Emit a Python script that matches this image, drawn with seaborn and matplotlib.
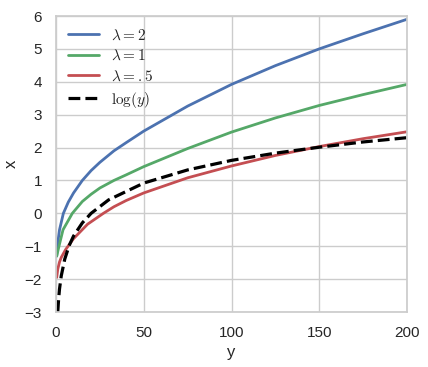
import matplotlib
matplotlib.use("Agg")
import matplotlib.pyplot as plt
import seaborn as sns
import pandas as pd

# horizontal axis values ("y") and read-off curve values ("x")
y_blue = [0.4, 1, 2, 4.2, 7, 10, 15, 20, 25, 33, 40, 50, 75, 100, 125, 150, 175, 200]
x_blue = [-1.3, -0.9, -0.5, 0.0, 0.34, 0.62, 1.0, 1.3, 1.55, 1.9, 2.15, 2.5, 3.26, 3.92, 4.49, 5.0, 5.46, 5.9]

y_green = [0.4, 1.7, 4, 9.3, 15, 20, 25, 33, 40, 50, 75, 100, 125, 150, 175, 200]
x_green = [-1.3, -1.0, -0.5, 0.0, 0.36, 0.58, 0.77, 1.0, 1.17, 1.42, 1.97, 2.47, 2.9, 3.28, 3.61, 3.92]

y_red = [0.4, 1, 2, 3, 5.5, 10, 18, 27, 33, 40, 50, 75, 100, 125, 150, 175, 200]
x_red = [-1.95, -1.7, -1.48, -1.34, -1.1, -0.77, -0.33, 0.0, 0.2, 0.39, 0.62, 1.08, 1.44, 1.76, 2.03, 2.27, 2.48]

y_log = [1, 1.5, 2, 3, 5, 7.5, 10, 15, 20, 30, 50, 75, 100, 125, 150, 175, 200]
x_log = [-3.0, -2.6, -2.3, -1.9, -1.39, -0.98, -0.69, -0.29, 0.0, 0.41, 0.92, 1.32, 1.61, 1.83, 2.01, 2.17, 2.30]

labels = [r"$\lambda = 2$", r"$\lambda = 1$", r"$\lambda = .5$", r"$\log(y)$"]
colors = ["#4C72B0", "#55A868", "#C44E52", "black"]

sns.set_theme(style="whitegrid")
plt.rcParams["font.family"] = ["Liberation Sans", "DejaVu Sans"]
plt.rcParams["mathtext.fontset"] = "cm"

fig = plt.figure(figsize=(4.28, 3.67), dpi=100)
ax = fig.add_axes([56 / 428, 1 - 312 / 367, (407 - 56) / 428, (312 - 16) / 367])

series = [(y_blue, x_blue), (y_green, x_green), (y_red, x_red), (y_log, x_log)]
for i, (yy, xx) in enumerate(series):
    df = pd.DataFrame({"y": yy, "x": xx})
    kw = dict(color=colors[i], label=labels[i], lw=2.0)
    if i == 3:
        kw.update(lw=2.3, linestyle="--", dashes=(3.2, 2.2))
    sns.lineplot(data=df, x="y", y="x", ax=ax, sort=False, estimator=None, **kw)

ax.set_xlim(0, 200)
ax.set_ylim(-3, 6)
ax.set_xticks([0, 50, 100, 150, 200])
ax.set_yticks(range(-3, 7))
ax.tick_params(labelsize=11, pad=4)
ax.set_xlabel("y", fontsize=12)
ax.set_ylabel("x", fontsize=12)
leg = ax.legend(loc="upper left", frameon=False, fontsize=11, handlelength=2.0,
                handletextpad=0.8, labelspacing=0.4, borderaxespad=0.4)

fig.savefig("out.png", dpi=100)
